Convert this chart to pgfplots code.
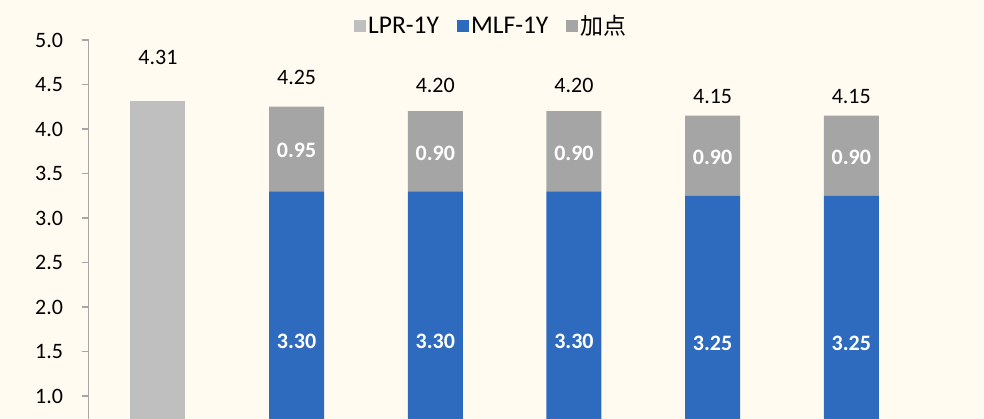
\documentclass[border=0pt]{standalone}
\usepackage{pgfplots}
\pgfplotsset{compat=1.18}
\usepackage{fontspec}
\setmainfont{Carlito}
\newfontfamily\cjk{Noto Sans CJK SC}
\definecolor{bg}{HTML}{FFFBF0}
\definecolor{lpr}{HTML}{BFBFBF}
\definecolor{mlf}{HTML}{2E6BBE}
\definecolor{jd}{HTML}{A5A5A5}
\definecolor{axgray}{HTML}{A6A6A6}
\pgfplotsset{base/.style={
  at={(88.6pt,0pt)}, anchor=south west, scale only axis,
  width=832pt, height=379pt, xmin=-0.5, xmax=5.5, ymin=0.742, ymax=5.0}}
\begin{document}
\begin{tikzpicture}
\path[use as bounding box, fill=bg] (0,0) rectangle (984pt,419pt);
\begin{axis}[base,
  ybar stacked, bar width=55pt,
  axis y line*=left, axis x line=none,
  xtick=\empty,
  ytick={1,1.5,2,2.5,3,3.5,4,4.5,5},
  yticklabel style={/pgf/number format/fixed, /pgf/number format/fixed zerofill, /pgf/number format/precision=1, /pgf/number format/assume math mode=true,
    font=\fontsize{22pt}{26pt}\selectfont, text=black, xshift=-15pt},
  tick align=outside, major tick length=7pt,
  y axis line style={axgray, line width=1.2pt},
  ytick style={axgray, line width=1.2pt},
  legend columns=3,
  legend style={draw=none, fill=none, at={(0.484,1.037)}, anchor=center,
    font=\fontsize{25.5pt}{30pt}\selectfont,
    /tikz/every even column/.append style={column sep=16pt}},
  every axis plot post/.append style={legend image code/.code={\fill[##1] (0pt,-6pt) rectangle (12pt,6pt);}},
]
\addplot[fill=lpr, draw=none] coordinates {(0,4.31) (1,0) (2,0) (3,0) (4,0) (5,0)};
\addplot[fill=mlf, draw=none] coordinates {(0,0) (1,3.30) (2,3.30) (3,3.30) (4,3.25) (5,3.25)};
\addplot[fill=jd, draw=none] coordinates {(0,0) (1,0.95) (2,0.90) (3,0.90) (4,0.90) (5,0.90)};
\legend{LPR-1Y, MLF-1Y, {\cjk\fontsize{23pt}{28pt}\selectfont 加点}}
\end{axis}
\begin{axis}[base, hide axis, clip=false]
\addplot[draw=none, mark=none, nodes near coords, point meta=explicit symbolic,
  every node near coord/.append style={anchor=center, font=\fontsize{22pt}{26pt}\selectfont, text=black}]
  coordinates {(0,4.80)[4.31] (1,4.574)[4.25] (2,4.488)[4.20] (3,4.488)[4.20] (4,4.364)[4.15] (5,4.364)[4.15]};
\addplot[draw=none, mark=none, nodes near coords, point meta=explicit symbolic,
  every node near coord/.append style={anchor=center, font=\fontsize{22pt}{26pt}\selectfont\bfseries, text=white}]
  coordinates {(1,3.759)[0.95] (2,3.722)[0.90] (3,3.722)[0.90] (4,3.677)[0.90] (5,3.677)[0.90]};
\addplot[draw=none, mark=none, nodes near coords, point meta=explicit symbolic,
  every node near coord/.append style={anchor=center, font=\fontsize{22pt}{26pt}\selectfont\bfseries, text=white}]
  coordinates {(1,1.610)[3.30] (2,1.610)[3.30] (3,1.610)[3.30] (4,1.595)[3.25] (5,1.595)[3.25]};
\end{axis}
\end{tikzpicture}
\end{document}
